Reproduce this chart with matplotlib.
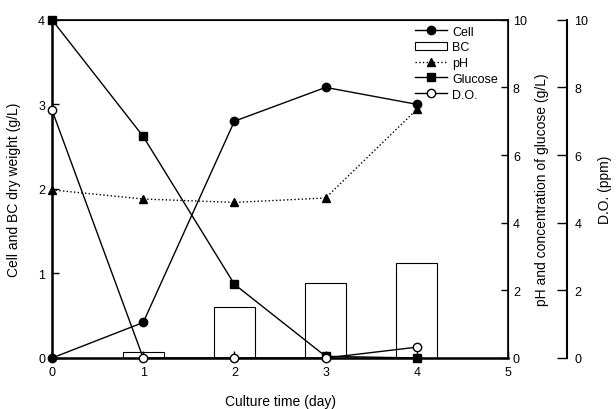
import matplotlib.pyplot as plt
from matplotlib.lines import Line2D
from matplotlib.patches import Patch

plt.rcParams["font.family"] = ["Liberation Sans", "DejaVu Sans"]

days = [0, 1, 2, 3, 4]
cell = [0.0, 0.42, 2.8, 3.2, 3.0]
bc_days = [1, 2, 3, 4]
bc = [0.07, 0.6, 0.89, 1.12]
ph = [4.97, 4.7, 4.6, 4.73, 7.35]
glucose = [10.0, 6.55, 2.18, 0.05, 0.0]
do_ppm = [7.33, 0.0, 0.0, 0.0, 0.32]

fig = plt.figure(figsize=(6.16, 4.10), dpi=100)
ax1 = fig.add_axes([0.0844, 0.1244, 0.7403, 0.825])
ax2 = ax1.twinx()
ax3 = ax1.twinx()

# BC bars + cell on left axis
ax1.bar(bc_days, bc, width=0.45, facecolor="white", edgecolor="black",
        linewidth=0.8, zorder=1)
ax1.plot(days, cell, color="black", lw=1, marker="o", ms=6, clip_on=False, zorder=3)
ax1.set_xlim(0, 5)
ax1.set_ylim(0, 4)
ax1.set_xticks([0, 1, 2, 3, 4, 5])
ax1.set_yticks([0, 1, 2, 3, 4])
ax1.set_xlabel("Culture time (day)", fontsize=10, labelpad=11)
ax1.set_ylabel("Cell and BC dry weight (g/L)", fontsize=10, labelpad=12)
ax1.tick_params(direction="in", labelsize=9, length=5, width=1)
ax1.tick_params(axis="x", pad=6)
ax1.tick_params(axis="y", pad=5)

# pH and glucose on right axis
ax2.plot(days, ph, color="black", lw=1, ls=":", marker="^", ms=6, clip_on=False)
ax2.plot(days, glucose, color="black", lw=1, marker="s", ms=6, clip_on=False)
ax2.set_ylim(0, 10)
ax2.set_yticks([0, 2, 4, 6, 8, 10])
ax2.set_ylabel("pH and concentration of glucose (g/L)", fontsize=10, labelpad=6)
ax2.tick_params(direction="in", labelsize=9, length=5, width=1)

# dissolved oxygen on the outer axis
ax3.plot(days, do_ppm, color="black", lw=1, marker="o", ms=6,
         markerfacecolor="white", clip_on=False)
ax3.set_ylim(0, 10)
ax3.set_yticks([0, 2, 4, 6, 8, 10])
ax3.spines["right"].set_position(("axes", 1.13))
for s in ["left", "top", "bottom"]:
    ax3.spines[s].set_visible(False)
ax3.spines["right"].set_linewidth(1.5)
ax3.set_ylabel("D.O. (ppm)", fontsize=10, labelpad=7)
ax3.tick_params(direction="in", labelsize=9, length=7, width=1, pad=5)

for s in ["left", "bottom"]:
    ax1.spines[s].set_linewidth(1.8)
ax1.spines["top"].set_linewidth(1.2)
ax2.spines["right"].set_linewidth(1.2)

handles = [
    Line2D([], [], color="black", lw=1, marker="o", ms=6),
    Patch(facecolor="white", edgecolor="black", linewidth=0.8),
    Line2D([], [], color="black", lw=1, ls=":", marker="^", ms=6),
    Line2D([], [], color="black", lw=1, marker="s", ms=6),
    Line2D([], [], color="black", lw=1, marker="o", ms=6, markerfacecolor="white"),
]
labels = ["Cell", "BC", "pH", "Glucose", "D.O."]
ax3.legend(handles, labels, loc="upper right", bbox_to_anchor=(0.995, 1.005),
           frameon=False, fontsize=9, handlelength=2.6, handletextpad=0.4,
           labelspacing=0.3, borderaxespad=0.2)

fig.savefig("out.png", dpi=100)
